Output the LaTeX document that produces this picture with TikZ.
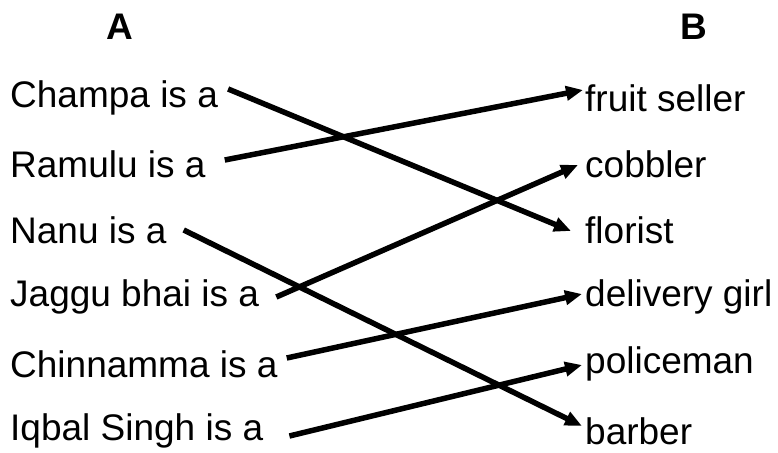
\documentclass[tikz,border=0pt]{standalone}
\usepackage{fontspec}
\setmainfont{Liberation Sans}
\usetikzlibrary{arrows.meta}
\begin{document}
\begin{tikzpicture}[x=1pt,y=-1pt,
  item/.style={anchor=west,inner sep=0pt,font=\fontsize{37}{42}\selectfont},
  head/.style={inner sep=0pt,font=\fontsize{37}{40}\selectfont\bfseries},
  link/.style={line width=5.5pt,-{Triangle[length=17pt,width=14pt]}}]
\useasboundingbox (0,0) rectangle (778,452);
\node[head] (colA) at (120,27) {A};
\node[head] (colB) at (694,27) {B};
% left column
\node[item] (champa) at (10,98) {Champa is a};
\node[item] (ramulu) at (10,164) {Ramulu is a};
\node[item] (nanu) at (10,230) {Nanu is a};
\node[item] (jaggu) at (10,297) {Jaggu bhai is a};
\node[item] (chinnamma) at (10,364) {Chinnamma is a};
\node[item] (iqbal) at (10,431) {Iqbal Singh is a};
% right column
\node[item] (fruit) at (585,98) {fruit seller};
\node[item] (cobbler) at (585,164) {cobbler};
\node[item] (florist) at (585,230) {florist};
\node[item] (delivery) at (585,297) {delivery girl};
\node[item] (police) at (585,364) {policeman};
\node[item] (barber) at (585,431) {barber};
% matching
\draw[link] ([xshift=10pt,yshift=9pt]champa.east) -- ([xshift=-14pt,yshift=-1pt]florist.west);
\draw[link] ([xshift=19pt,yshift=4pt]ramulu.east) -- ([xshift=-2pt,yshift=8pt]fruit.west);
\draw[link] ([xshift=17pt]nanu.east) -- ([xshift=-3pt,yshift=5pt]barber.west);
\draw[link] ([xshift=17pt]jaggu.east) -- ([xshift=-7pt,yshift=-1pt]cobbler.west);
\draw[link] ([xshift=9pt,yshift=6pt]chinnamma.east) -- ([xshift=-3pt,yshift=3pt]delivery.west);
\draw[link] ([xshift=26pt,yshift=-5pt]iqbal.east) -- ([xshift=-3pt,yshift=-1pt]police.west);
\end{tikzpicture}
\end{document}
